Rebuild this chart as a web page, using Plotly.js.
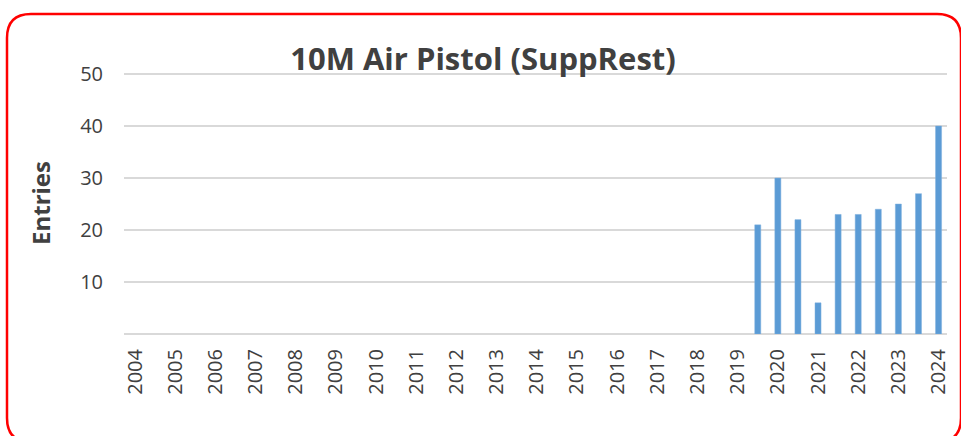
<!DOCTYPE html>
<html>
<head>
<meta charset="utf-8">
<script src="https://cdn.plot.ly/plotly-3.0.1.min.js"></script>
<style>
html,body{margin:0;padding:0;background:#fff;}
#chart{width:961px;height:436px;}
</style>
</head>
<body>
<div id="chart"></div>
<script>
// Data
var periods = [2019.5, 2020, 2020.5, 2021, 2021.5, 2022, 2022.5, 2023, 2023.5, 2024];
var entries = [21, 30, 22, 6, 23, 23, 24, 25, 27, 40];
var yearTicks = [2004,2005,2006,2007,2008,2009,2010,2011,2012,2013,2014,2015,2016,2017,2018,2019,2020,2021,2022,2023,2024];
var yTicks = [10, 20, 30, 40, 50];

var W = 961, H = 436;
var M = {l:124, r:14, t:72, b:102};
var pw = W - M.l - M.r, ph = H - M.t - M.b;
function px(x){ return ((x - M.l) / pw).toFixed(5); }
function py(y){ return ((H - M.b - y) / ph).toFixed(5); }

// rounded frame (pixel positions converted to paper coords)
var L = 7, R = 961, T = 14, B = 442, rad = 24;
var framePath = 'M ' + px(L+rad) + ',' + py(T) +
  ' L ' + px(R-rad) + ',' + py(T) +
  ' Q ' + px(R) + ',' + py(T) + ' ' + px(R) + ',' + py(T+rad) +
  ' L ' + px(R) + ',' + py(B-rad) +
  ' Q ' + px(R) + ',' + py(B) + ' ' + px(R-rad) + ',' + py(B) +
  ' L ' + px(L+rad) + ',' + py(B) +
  ' Q ' + px(L) + ',' + py(B) + ' ' + px(L) + ',' + py(B-rad) +
  ' L ' + px(L) + ',' + py(T+rad) +
  ' Q ' + px(L) + ',' + py(T) + ' ' + px(L+rad) + ',' + py(T) + ' Z';

var trace = {
  type: 'bar',
  x: periods,
  y: entries,
  width: 0.15,
  marker: {color: '#5b9bd5', line: {color: '#7fb0df', width: 0.5}},
  hoverinfo: 'x+y'
};

var layout = {
  width: W, height: H,
  margin: M,
  paper_bgcolor: '#ffffff',
  plot_bgcolor: '#ffffff',
  showlegend: false,
  font: {family: 'Open Sans, sans-serif', color: '#404040'},
  title: {
    text: '<b>10M Air Pistol (SuppRest)</b>',
    font: {family: 'Open Sans, sans-serif', size: 31, color: '#404040'},
    x: 483/961, xanchor: 'center',
    yref: 'container', y: 1 - 59/436, yanchor: 'middle'
  },
  xaxis: {
    range: [2003.726, 2024.21],
    tickmode: 'array',
    tickvals: yearTicks,
    ticktext: yearTicks.map(String),
    tickangle: -90,
    tickfont: {size: 20, color: '#404040'},
    showgrid: false,
    zeroline: false,
    showline: false,
    ticks: '',
    ticklabelstandoff: 10,
    fixedrange: true
  },
  yaxis: {
    range: [0, 50.4],
    tickmode: 'array',
    tickvals: yTicks,
    ticktext: yTicks.map(String),
    tickfont: {size: 20, color: '#404040'},
    showgrid: true,
    gridcolor: '#d9d9d9',
    gridwidth: 1.5,
    zeroline: true,
    zerolinecolor: '#d9d9d9',
    zerolinewidth: 1.5,
    showline: false,
    ticks: '',
    ticklabelstandoff: 20,
    automargin: true,
    title: {text: '<b>Entries</b>', font: {size: 24, color: '#404040'}, standoff: 22},
    fixedrange: true
  },
  shapes: [{
    type: 'path',
    xref: 'paper', yref: 'paper',
    path: framePath,
    line: {color: '#ff0000', width: 2.5},
    fillcolor: 'rgba(0,0,0,0)',
    layer: 'above'
  }]
};

Plotly.newPlot('chart', [trace], layout, {displayModeBar: false, staticPlot: true});
</script>
</body>
</html>
